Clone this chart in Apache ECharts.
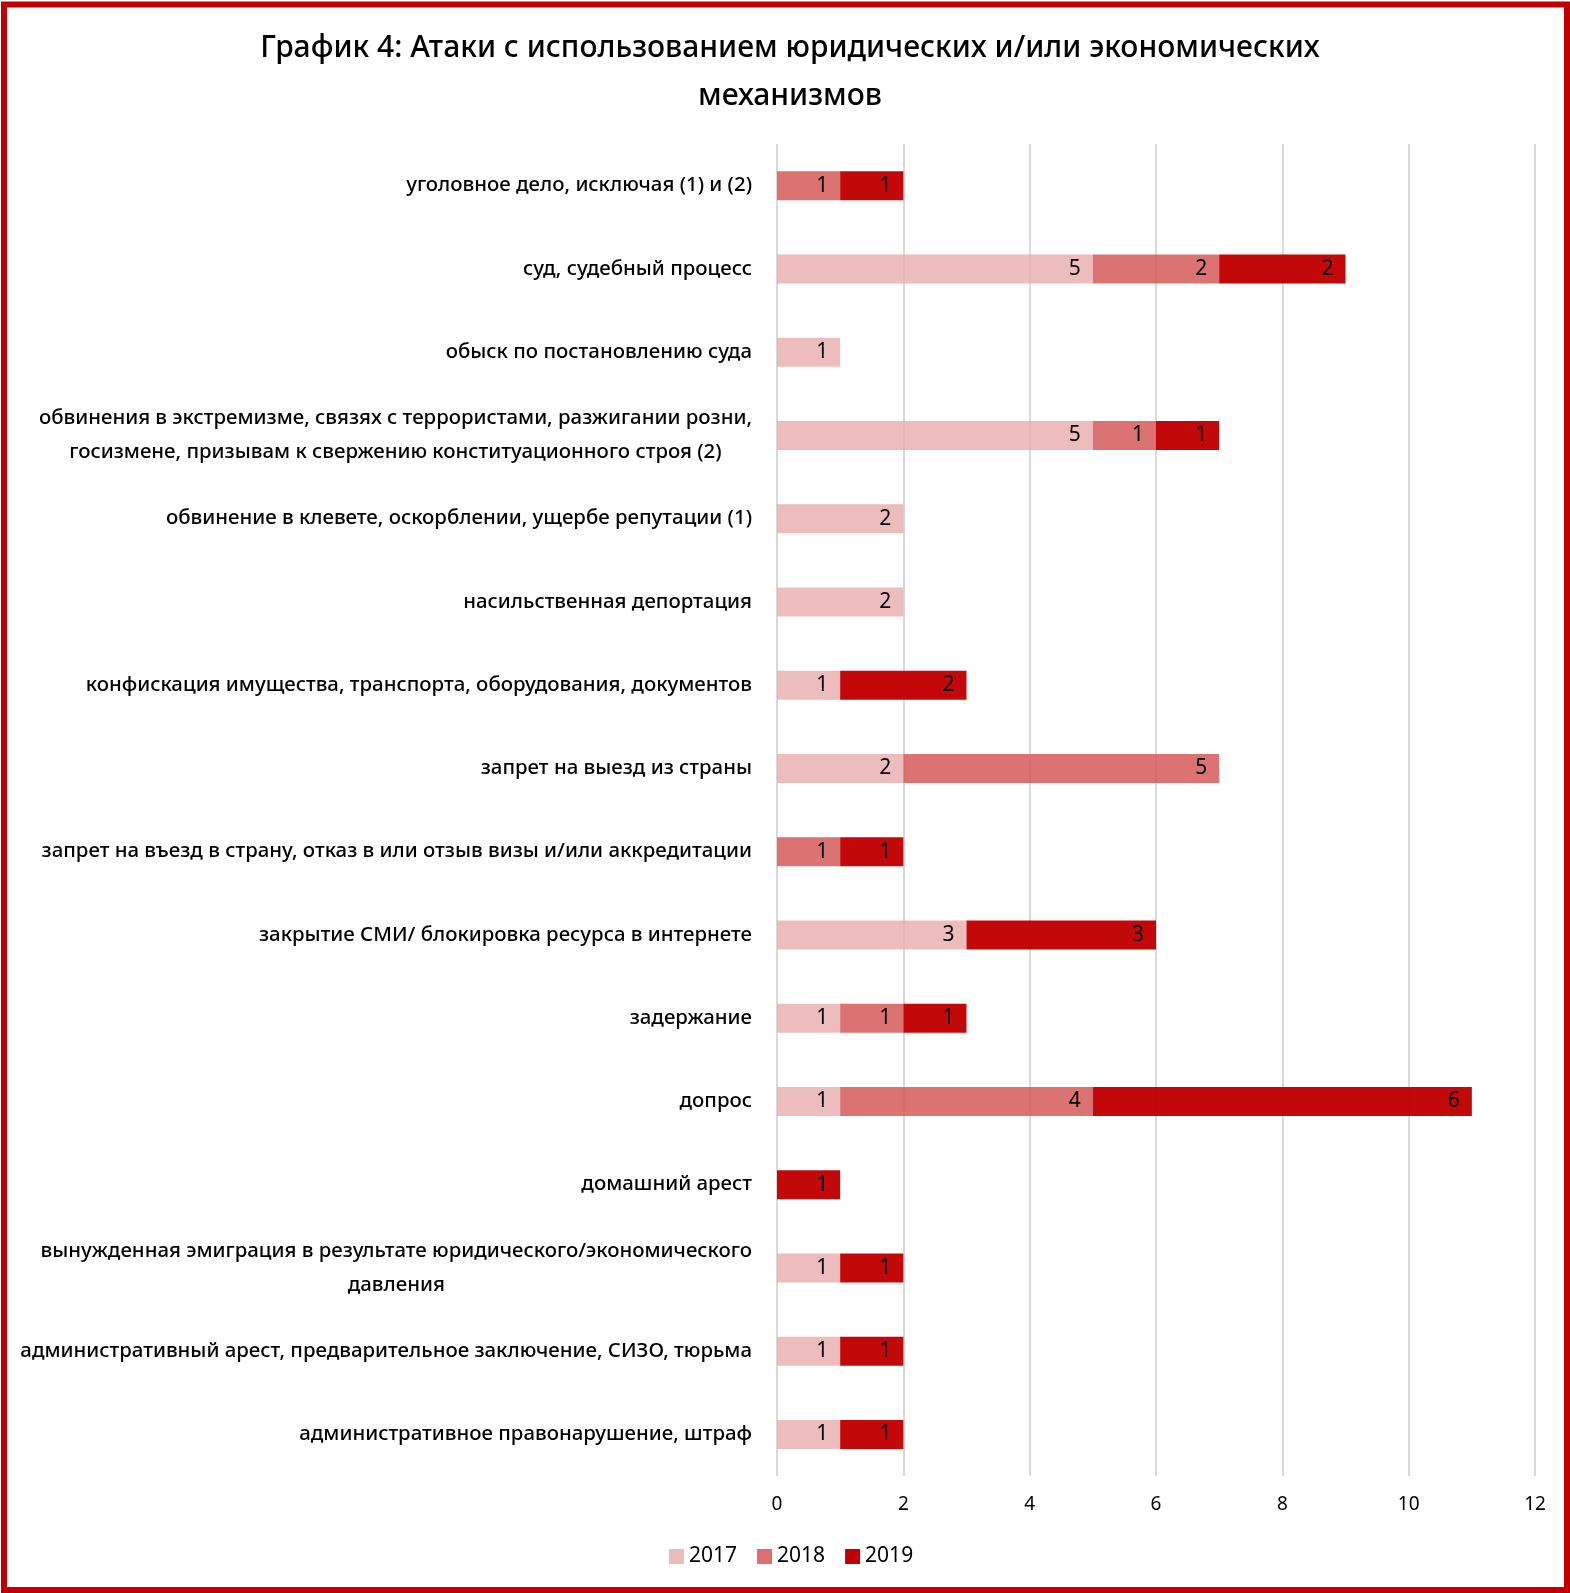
<!DOCTYPE html>
<html>
<head>
<meta charset="utf-8">
<script src="https://cdn.jsdelivr.net/npm/echarts@6/dist/echarts.min.js"></script>
<style>
html,body{margin:0;padding:0;background:#fff;}
#chart{width:1570px;height:1593px;}
</style>
</head>
<body>
<div id="chart"></div>
<script>
const titleText = 'График 4: Атаки с использованием юридических и/или экономических\nмеханизмов';
const categories = [
  'уголовное дело, исключая (1) и (2)',
  'суд, судебный процесс',
  'обыск по постановлению суда',
  'обвинения в экстремизме, связях с террористами, разжигании розни,\nгосизмене, призывам к свержению конституационного строя (2)',
  'обвинение в клевете, оскорблении, ущербе репутации (1)',
  'насильственная депортация',
  'конфискация имущества, транспорта, оборудования, документов',
  'запрет на выезд из страны',
  'запрет на въезд в страну, отказ в или отзыв визы и/или аккредитации',
  'закрытие СМИ/ блокировка ресурса в интернете',
  'задержание',
  'допрос',
  'домашний арест',
  'вынужденная эмиграция в результате юридического/экономического\nдавления',
  'административный арест, предварительное заключение, СИЗО, тюрьма',
  'административное правонарушение, штраф'
];
const seriesNames = ['2017', '2018', '2019'];
const values2017 = [null, 5, 1, 5, 2, 2, 1, 2, null, 3, 1, 1, null, 1, 1, 1];
const values2018 = [1, 2, null, 1, null, null, null, 5, 1, null, 1, 4, null, null, null, null];
const values2019 = [1, 2, null, 1, null, null, 2, null, 1, 3, 1, 6, 1, 1, 1, 1];
const xTicks = { min: 0, max: 12, interval: 2 };

const colors = ['rgba(232,172,172,0.8)', 'rgba(214,92,92,0.86)', 'rgba(192,0,0,0.97)'];
const legendColors = ['#EDBBBB', '#DC7070', '#C00000'];
const FONT = '"Noto Sans", sans-serif';
const allValues = [values2017, values2018, values2019];

const chart = echarts.init(document.getElementById('chart'), null, { renderer: 'canvas' });
chart.setOption({
  backgroundColor: '#ffffff',
  animation: false,
  textStyle: { fontFamily: FONT },
  title: {
    text: titleText,
    left: 785,
    top: 19,
    textAlign: 'center',
    textStyle: { fontFamily: FONT, fontSize: 30, fontWeight: 500, color: '#000', lineHeight: 48 }
  },
  legend: {
    data: seriesNames.map((n, i) => ({ name: n, itemStyle: { color: legendColors[i] } })),
    left: 664,
    top: 1541,
    itemWidth: 15,
    itemHeight: 15,
    itemGap: 20,
    icon: 'rect',
    textStyle: { fontFamily: FONT, fontSize: 21, color: '#000' }
  },
  grid: { left: 777, right: 35, top: 144, bottom: 117, containLabel: false, outerBoundsMode: 'none' },
  xAxis: {
    type: 'value',
    min: xTicks.min,
    max: xTicks.max,
    interval: xTicks.interval,
    axisLine: { show: false },
    axisTick: { show: false },
    axisLabel: { color: '#000', fontSize: 19, margin: 19, fontFamily: FONT },
    splitLine: { show: true, lineStyle: { color: '#d9d9d9', width: 2 } }
  },
  yAxis: {
    type: 'category',
    data: categories,
    inverse: true,
    axisLine: { show: false },
    axisTick: { show: false },
    axisLabel: {
      margin: 25,
      color: '#000',
      fontSize: 20.4,
      fontWeight: 500,
      fontFamily: FONT,
      formatter: v => '{c|' + v + '}',
      rich: { c: { align: 'center', fontSize: 20.4, fontWeight: 500, lineHeight: 34, color: '#000', fontFamily: FONT } }
    }
  },
  series: seriesNames.map((name, i) => ({
    name: name,
    type: 'bar',
    stack: 'total',
    barWidth: 29,
    data: allValues[i],
    itemStyle: { color: colors[i] },
    label: {
      show: true,
      position: 'insideRight',
      distance: 12,
      color: '#000',
      fontSize: 21,
      fontFamily: FONT,
      formatter: p => (p.value ? String(p.value) : '')
    }
  })),
  graphic: [{
    type: 'rect',
    silent: true,
    z: 100,
    shape: { x: 4, y: 4.5, width: 1563, height: 1585.5 },
    style: { fill: 'none', stroke: '#C00000', lineWidth: 6 }
  }]
});
</script>
</body>
</html>
